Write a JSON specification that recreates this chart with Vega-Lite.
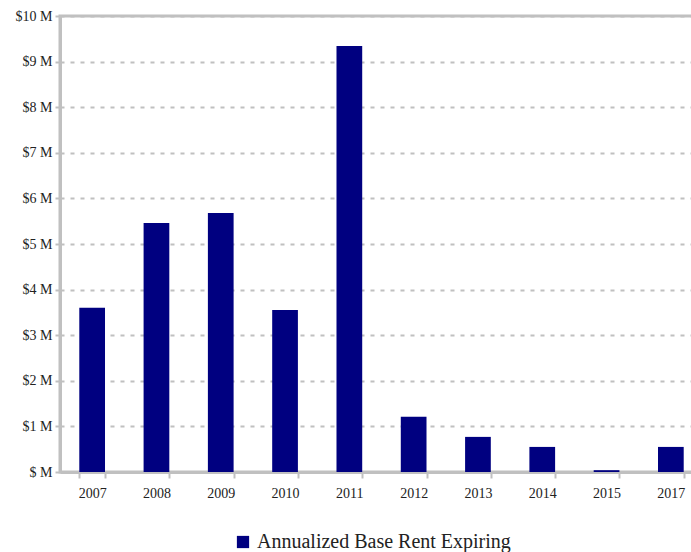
{
  "$schema": "https://vega.github.io/schema/vega-lite/v6.json",
  "width": 643,
  "height": 456,
  "autosize": {"type": "none"},
  "padding": {"left": 60, "top": 16, "right": 0, "bottom": 80},
  "background": "white",
  "config": {
    "font": "Liberation Serif, Times New Roman, serif",
    "view": {"stroke": "#c0c0c0", "strokeWidth": 3}
  },
  "data": {
    "values": [
      {"year": "2007", "rent": 3.60, "series": "Annualized Base Rent Expiring"},
      {"year": "2008", "rent": 5.46, "series": "Annualized Base Rent Expiring"},
      {"year": "2009", "rent": 5.68, "series": "Annualized Base Rent Expiring"},
      {"year": "2010", "rent": 3.55, "series": "Annualized Base Rent Expiring"},
      {"year": "2011", "rent": 9.34, "series": "Annualized Base Rent Expiring"},
      {"year": "2012", "rent": 1.21, "series": "Annualized Base Rent Expiring"},
      {"year": "2013", "rent": 0.77, "series": "Annualized Base Rent Expiring"},
      {"year": "2014", "rent": 0.55, "series": "Annualized Base Rent Expiring"},
      {"year": "2015", "rent": 0.04, "series": "Annualized Base Rent Expiring"},
      {"year": "2017", "rent": 0.55, "series": "Annualized Base Rent Expiring"}
    ]
  },
  "mark": {"type": "bar"},
  "encoding": {
    "x": {
      "field": "year",
      "type": "ordinal",
      "scale": {"paddingInner": 0.6, "paddingOuter": 0.3},
      "axis": {
        "title": null,
        "labelAngle": 0,
        "labelFont": "Liberation Serif, Times New Roman, serif",
        "labelFontSize": 14,
        "labelColor": "#222",
        "labelPadding": 8,
        "tickBand": "extent",
        "domainColor": "#c0c0c0",
        "domainWidth": 3,
        "tickColor": "#c0c0c0",
        "tickWidth": 2,
        "tickSize": 6,
        "grid": false
      }
    },
    "y": {
      "field": "rent",
      "type": "quantitative",
      "scale": {"domain": [0, 10], "nice": false},
      "axis": {
        "title": null,
        "values": [0, 1, 2, 3, 4, 5, 6, 7, 8, 9, 10],
        "labelExpr": "datum.value == 0 ? '$ M' : '$' + datum.value + ' M'",
        "labelFont": "Liberation Serif, Times New Roman, serif",
        "labelFontSize": 14,
        "labelColor": "#222",
        "labelPadding": 3,
        "domainColor": "#c0c0c0",
        "domainWidth": 3,
        "tickColor": "#c0c0c0",
        "tickWidth": 2,
        "tickSize": 5,
        "grid": true,
        "gridColor": "#c0c0c0",
        "gridWidth": 2,
        "gridDash": [4, 6]
      }
    },
    "color": {
      "field": "series",
      "type": "nominal",
      "scale": {"range": ["#000080"]},
      "legend": {
        "title": null,
        "orient": "none",
        "legendX": 173,
        "legendY": 516,
        "symbolType": "square",
        "symbolSize": 150,
        "symbolStrokeWidth": 0,
        "labelFont": "Liberation Serif, Times New Roman, serif",
        "labelFontSize": 20,
        "labelColor": "#222",
        "labelOffset": 4,
        "labelLimit": 400
      }
    }
  }
}
